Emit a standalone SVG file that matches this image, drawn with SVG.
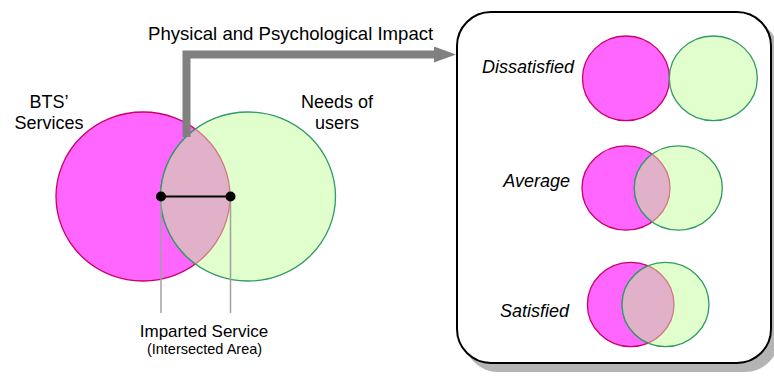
<svg xmlns="http://www.w3.org/2000/svg" width="774" height="376" viewBox="0 0 774 376">
  <style>
    text { font-family: "Liberation Sans", Arial, sans-serif; fill: #000; }
    .lbl { font-size: 18px; }
    .mid { text-anchor: middle; }
    .state { font-size: 18px; font-style: italic; text-anchor: end; }
    .pink { fill: #ff66ff; stroke: #cc0066; stroke-width: 1.3; }
    .green { fill: #e0ffcc; stroke: #339966; stroke-width: 1.3; }
    .green-edge { fill: none; stroke: #339966; stroke-width: 1.3; }
    .overlap { fill: #e1b1c9; stroke: #d07a80; stroke-width: 1.3; }
    .lead { stroke: #a0a0a0; stroke-width: 1.5; fill: none; }
  </style>
  <defs>
    <marker id="bigArrow" markerUnits="userSpaceOnUse" markerWidth="24" markerHeight="18" refX="0" refY="8" orient="auto">
      <polygon points="0,0 22,8 0,16" fill="#808080"/>
    </marker>
    <clipPath id="clipMainGreen"><ellipse cx="248" cy="196.5" rx="87.5" ry="84.5"/></clipPath>
    <clipPath id="clipMainPink"><ellipse cx="143" cy="196.5" rx="87" ry="84.5"/></clipPath>
    <clipPath id="clipAvgGreen"><ellipse cx="678.3" cy="188" rx="44" ry="42.2"/></clipPath>
    <clipPath id="clipAvgPink"><ellipse cx="626" cy="188" rx="44" ry="42.2"/></clipPath>
    <clipPath id="clipSatGreen"><ellipse cx="665.5" cy="304.5" rx="43.5" ry="42.2"/></clipPath>
    <clipPath id="clipSatPink"><ellipse cx="630.7" cy="304.5" rx="43.3" ry="42.2"/></clipPath>
  </defs>

  <rect width="774" height="376" fill="#ffffff"/>

  <!-- main Venn: services vs. needs -->
  <g id="main-venn">
    <ellipse class="pink" cx="143" cy="196.5" rx="87" ry="84.5"/>
    <ellipse class="green" cx="248" cy="196.5" rx="87.5" ry="84.5"/>
    <ellipse class="overlap" cx="143" cy="196.5" rx="87" ry="84.5" clip-path="url(#clipMainGreen)"/>
    <ellipse class="green-edge" cx="248" cy="196.5" rx="87.5" ry="84.5" clip-path="url(#clipMainPink)"/>
  </g>

  <g id="label-bts">
    <text class="lbl mid" x="49" y="108">BTS’</text>
    <text class="lbl mid" x="49" y="129">Services</text>
  </g>
  <g id="label-needs">
    <text class="lbl mid" x="337" y="108">Needs of</text>
    <text class="lbl mid" x="337" y="129">users</text>
  </g>

  <!-- connectors -->
  <g id="connectors">
    <polyline points="186.5,137 186.5,54.5 434,54.5" fill="none" stroke="#808080" stroke-width="8" stroke-linejoin="miter" marker-end="url(#bigArrow)"/>
    <line class="lead" x1="161" y1="197" x2="161" y2="313"/>
    <line class="lead" x1="230.5" y1="197" x2="230.5" y2="313"/>
    <line x1="161" y1="196.5" x2="230.5" y2="196.5" stroke="#000" stroke-width="2"/>
    <circle cx="161" cy="196.5" r="5" fill="#000"/>
    <circle cx="230.5" cy="196.5" r="5" fill="#000"/>
  </g>

  <g id="label-impact">
    <text x="148" y="40" style="font-size:18.6px">Physical and Psychological Impact</text>
  </g>
  <g id="label-imparted">
    <text class="mid" x="204" y="337" style="font-size:17px">Imparted Service</text>
    <text class="mid" x="204.5" y="354" style="font-size:14.5px">(Intersected Area)</text>
  </g>

  <!-- outcome panel -->
  <g id="outcome-panel">
    <rect x="464" y="20" width="315" height="352" rx="34" fill="#b4b4b4"/>
    <rect x="457" y="12" width="314" height="351" rx="34" fill="#ffffff" stroke="#000" stroke-width="2"/>
  </g>

  <g id="dissatisfied">
    <text class="state" x="574" y="73">Dissatisfied</text>
    <ellipse class="pink" cx="626" cy="78.3" rx="43.5" ry="42.3"/>
    <ellipse class="green" cx="713.3" cy="78.3" rx="44" ry="42.3"/>
  </g>

  <g id="average">
    <text class="state" x="570" y="187">Average</text>
    <ellipse class="pink" cx="626" cy="188" rx="44" ry="42.2"/>
    <ellipse class="green" cx="678.3" cy="188" rx="44" ry="42.2"/>
    <ellipse class="overlap" cx="626" cy="188" rx="44" ry="42.2" clip-path="url(#clipAvgGreen)"/>
    <ellipse class="green-edge" cx="678.3" cy="188" rx="44" ry="42.2" clip-path="url(#clipAvgPink)"/>
  </g>

  <g id="satisfied">
    <text class="state" x="569" y="317">Satisfied</text>
    <ellipse class="pink" cx="630.7" cy="304.5" rx="43.3" ry="42.2"/>
    <ellipse class="green" cx="665.5" cy="304.5" rx="43.5" ry="42.2"/>
    <ellipse class="overlap" cx="630.7" cy="304.5" rx="43.3" ry="42.2" clip-path="url(#clipSatGreen)"/>
    <ellipse class="green-edge" cx="665.5" cy="304.5" rx="43.5" ry="42.2" clip-path="url(#clipSatPink)"/>
  </g>
</svg>
